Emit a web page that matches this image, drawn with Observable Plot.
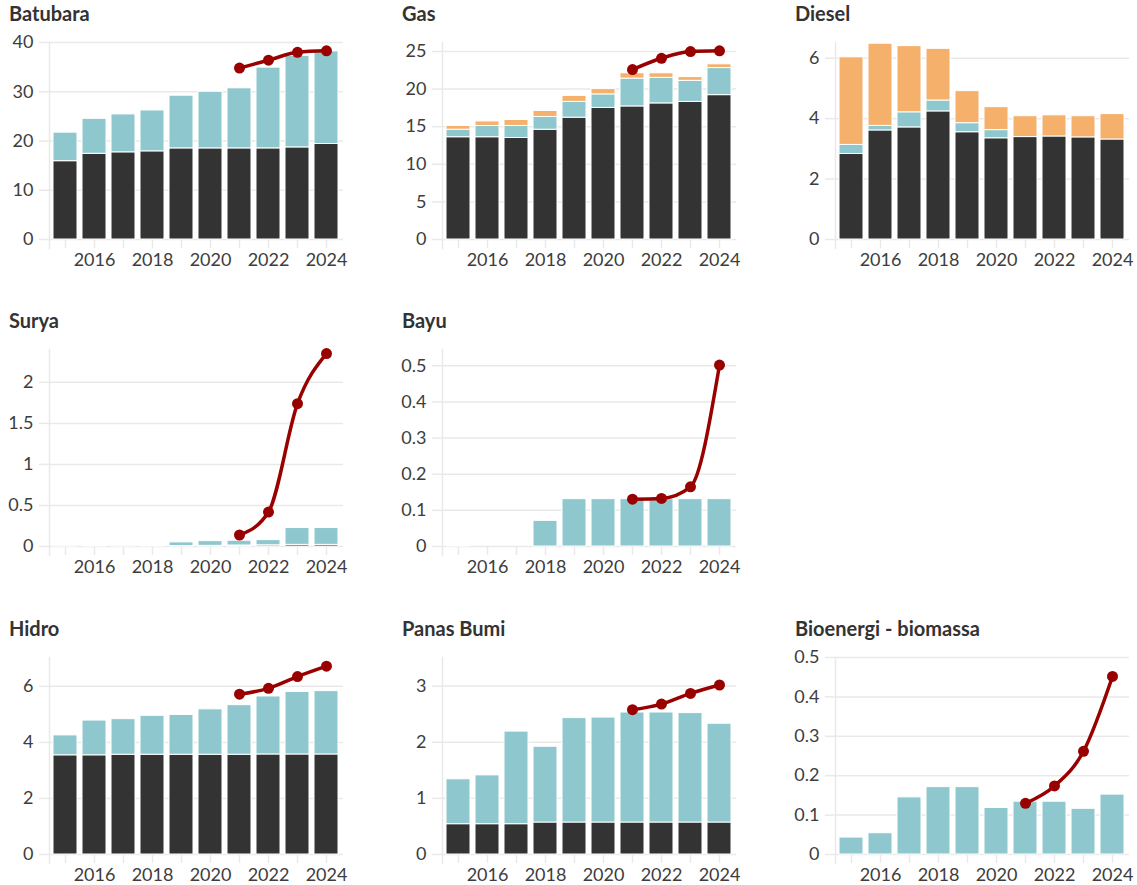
<!DOCTYPE html>
<html><head><meta charset="utf-8">
<script src="https://cdn.jsdelivr.net/npm/d3@7"></script>
<script src="https://cdn.jsdelivr.net/npm/@observablehq/plot@0.6"></script>
<style>
body{margin:0;background:#fff;font-family:Lato, sans-serif;}
#chart{position:relative;width:1137px;height:885px;overflow:hidden;}
.title{position:absolute;font-weight:700;font-size:20px;line-height:20px;color:#333;white-space:nowrap;}
.plotbox{position:absolute;}
</style></head><body><div id="chart"></div>
<script>
const years = [2015, 2016, 2017, 2018, 2019, 2020, 2021, 2022, 2023, 2024];
const targetYears = [2021, 2022, 2023, 2024];
const seriesNames = ["s1", "s2", "s3"];

const batubaraDark   = [15.9, 17.4, 17.7, 17.9, 18.5, 18.5, 18.5, 18.5, 18.7, 19.4];
const batubaraTeal   = [5.8, 7.1, 7.7, 8.3, 10.7, 11.5, 12.2, 16.4, 18.6, 18.8];
const batubaraOrange = [0, 0, 0, 0, 0, 0, 0, 0, 0, 0];
const batubaraTarget = [34.8, 36.4, 38.0, 38.3];
const batubaraTicks  = [0, 10, 20, 30, 40];

const gasDark   = [13.6, 13.6, 13.5, 14.6, 16.2, 17.5, 17.7, 18.1, 18.3, 19.2];
const gasTeal   = [1.0, 1.5, 1.6, 1.7, 2.1, 1.8, 3.7, 3.4, 2.8, 3.6];
const gasOrange = [0.5, 0.6, 0.8, 0.8, 0.8, 0.7, 0.7, 0.6, 0.5, 0.5];
const gasTarget = [22.6, 24.1, 25.0, 25.1];
const gasTicks  = [0, 5, 10, 15, 20, 25];

const dieselDark   = [2.83, 3.61, 3.71, 4.24, 3.55, 3.35, 3.39, 3.41, 3.38, 3.31];
const dieselTeal   = [0.30, 0.15, 0.50, 0.36, 0.30, 0.27, 0, 0, 0, 0];
const dieselOrange = [2.90, 2.72, 2.19, 1.71, 1.06, 0.76, 0.69, 0.70, 0.70, 0.84];
const dieselTarget = [];
const dieselTicks  = [0, 2, 4, 6];

const suryaDark   = [0, 0, 0, 0, 0.005, 0.008, 0.012, 0.015, 0.02, 0.02];
const suryaTeal   = [0.004, 0.012, 0.004, 0.006, 0.045, 0.057, 0.058, 0.063, 0.205, 0.205];
const suryaOrange = [0, 0, 0, 0, 0, 0, 0, 0, 0, 0];
const suryaTarget = [0.14, 0.42, 1.74, 2.35];
const suryaTicks  = [0, 0.5, 1, 1.5, 2];

const bayuDark   = [0, 0, 0, 0, 0, 0, 0, 0, 0, 0];
const bayuTeal   = [0.002, 0, 0, 0.071, 0.131, 0.131, 0.131, 0.131, 0.131, 0.131];
const bayuOrange = [0, 0, 0, 0, 0, 0, 0, 0, 0, 0];
const bayuTarget = [0.131, 0.133, 0.165, 0.502];
const bayuTicks  = [0, 0.1, 0.2, 0.3, 0.4, 0.5];

const hidroDark   = [3.54, 3.54, 3.56, 3.56, 3.56, 3.56, 3.56, 3.57, 3.57, 3.57];
const hidroTeal   = [0.71, 1.24, 1.27, 1.39, 1.42, 1.62, 1.77, 2.07, 2.23, 2.26];
const hidroOrange = [0, 0, 0, 0, 0, 0, 0, 0, 0, 0];
const hidroTarget = [5.72, 5.93, 6.35, 6.72];
const hidroTicks  = [0, 2, 4, 6];

const panasDark   = [0.54, 0.54, 0.54, 0.57, 0.57, 0.57, 0.57, 0.57, 0.57, 0.57];
const panasTeal   = [0.80, 0.87, 1.65, 1.35, 1.86, 1.87, 1.96, 1.96, 1.95, 1.76];
const panasOrange = [0, 0, 0, 0, 0, 0, 0, 0, 0, 0];
const panasTarget = [2.58, 2.68, 2.87, 3.02];
const panasTicks  = [0, 1, 2, 3];

const bioDark   = [0, 0, 0, 0, 0, 0, 0, 0, 0, 0];
const bioTeal   = [0.043, 0.054, 0.145, 0.171, 0.171, 0.118, 0.134, 0.134, 0.116, 0.152];
const bioOrange = [0, 0, 0, 0, 0, 0, 0, 0, 0, 0];
const bioTarget = [0.13, 0.174, 0.262, 0.452];
const bioTicks  = [0, 0.1, 0.2, 0.3, 0.4, 0.5];

const DARK = "#333333", TEAL = "#8ec8ce", ORANGE = "#f5b06b", RED = "#990000";
const GRID = "#e9e9e9", LABEL = "#3d3d3d";

const panels = [
  {title: "Batubara", col: 0, row: 0, max: 40, d: batubaraDark, t: batubaraTeal, o: batubaraOrange, target: batubaraTarget, ticks: batubaraTicks},
  {title: "Gas", col: 1, row: 0, max: 26.2, d: gasDark, t: gasTeal, o: gasOrange, target: gasTarget, ticks: gasTicks},
  {title: "Diesel", col: 2, row: 0, max: 6.52, d: dieselDark, t: dieselTeal, o: dieselOrange, target: dieselTarget, ticks: dieselTicks},
  {title: "Surya", col: 0, row: 1, max: 2.4, d: suryaDark, t: suryaTeal, o: suryaOrange, target: suryaTarget, ticks: suryaTicks},
  {title: "Bayu", col: 1, row: 1, max: 0.545, d: bayuDark, t: bayuTeal, o: bayuOrange, target: bayuTarget, ticks: bayuTicks},
  {title: "Hidro", col: 0, row: 2, max: 7.03, d: hidroDark, t: hidroTeal, o: hidroOrange, target: hidroTarget, ticks: hidroTicks},
  {title: "Panas Bumi", col: 1, row: 2, max: 3.51, d: panasDark, t: panasTeal, o: panasOrange, target: panasTarget, ticks: panasTicks},
  {title: "Bioenergi - biomassa", col: 2, row: 2, max: 0.5, d: bioDark, t: bioTeal, o: bioOrange, target: bioTarget, ticks: bioTicks}
];

const chart = document.getElementById("chart");
const MT = 10, PH = 197, MB = 36;

for (const p of panels) {
  const rows = [];
  years.forEach((yr, i) => {
    [p.d[i], p.t[i], p.o[i]].forEach((v, k) => {
      if (v > 0) rows.push({year: yr, series: seriesNames[k], value: v});
    });
  });
  const target = targetYears.slice(0, p.target.length).map((yr, i) => ({year: yr, value: p.target[i]}));
  const plotTop = 42 + p.row * 307.4;
  const left = 8 + p.col * 393;

  const svg = Plot.plot({
    width: 343, height: MT + PH + MB,
    marginLeft: 41, marginRight: 8, marginTop: MT, marginBottom: MB,
    style: {fontFamily: "Lato, sans-serif", fontSize: "18px", color: LABEL, background: "transparent", overflow: "visible"},
    x: {type: "band", domain: years, paddingInner: 0.16, paddingOuter: 0.09, label: null},
    y: {domain: [0, p.max], label: null},
    color: {type: "ordinal", domain: seriesNames, range: [DARK, TEAL, ORANGE]},
    marks: [
      Plot.gridY(p.ticks, {stroke: GRID, strokeOpacity: 1, strokeWidth: 1.5}),
      Plot.frame({anchor: "left", stroke: GRID, strokeWidth: 1.5, insetBottom: -9}),
      Plot.axisY(p.ticks, {tickSize: 10, tickPadding: 6, stroke: GRID, strokeOpacity: 1, strokeWidth: 1.5, color: LABEL, label: null, tickFormat: d => String(d)}),
      Plot.axisX(years, {tickSize: 9, tickPadding: 5, stroke: GRID, strokeOpacity: 1, strokeWidth: 1.5, color: LABEL, label: null, tickFormat: d => (d % 2 === 0 ? String(d) : "")}),
      Plot.barY(rows, {x: "year", y: "value", fill: "series", stroke: "white", strokeWidth: 1}),
      target.length ? Plot.line(target, {x: "year", y: "value", stroke: RED, strokeWidth: 3.5, curve: "monotone-x"}) : null,
      target.length ? Plot.dot(target, {x: "year", y: "value", fill: RED, r: 5.5}) : null
    ]
  });

  const box = document.createElement("div");
  box.className = "plotbox";
  box.style.left = left + "px";
  box.style.top = (plotTop - MT) + "px";
  box.appendChild(svg);
  chart.appendChild(box);

  const t = document.createElement("div");
  t.className = "title";
  t.textContent = p.title;
  t.style.left = (left + 1) + "px";
  t.style.top = (plotTop - 39) + "px";
  chart.appendChild(t);
}
</script></body></html>
